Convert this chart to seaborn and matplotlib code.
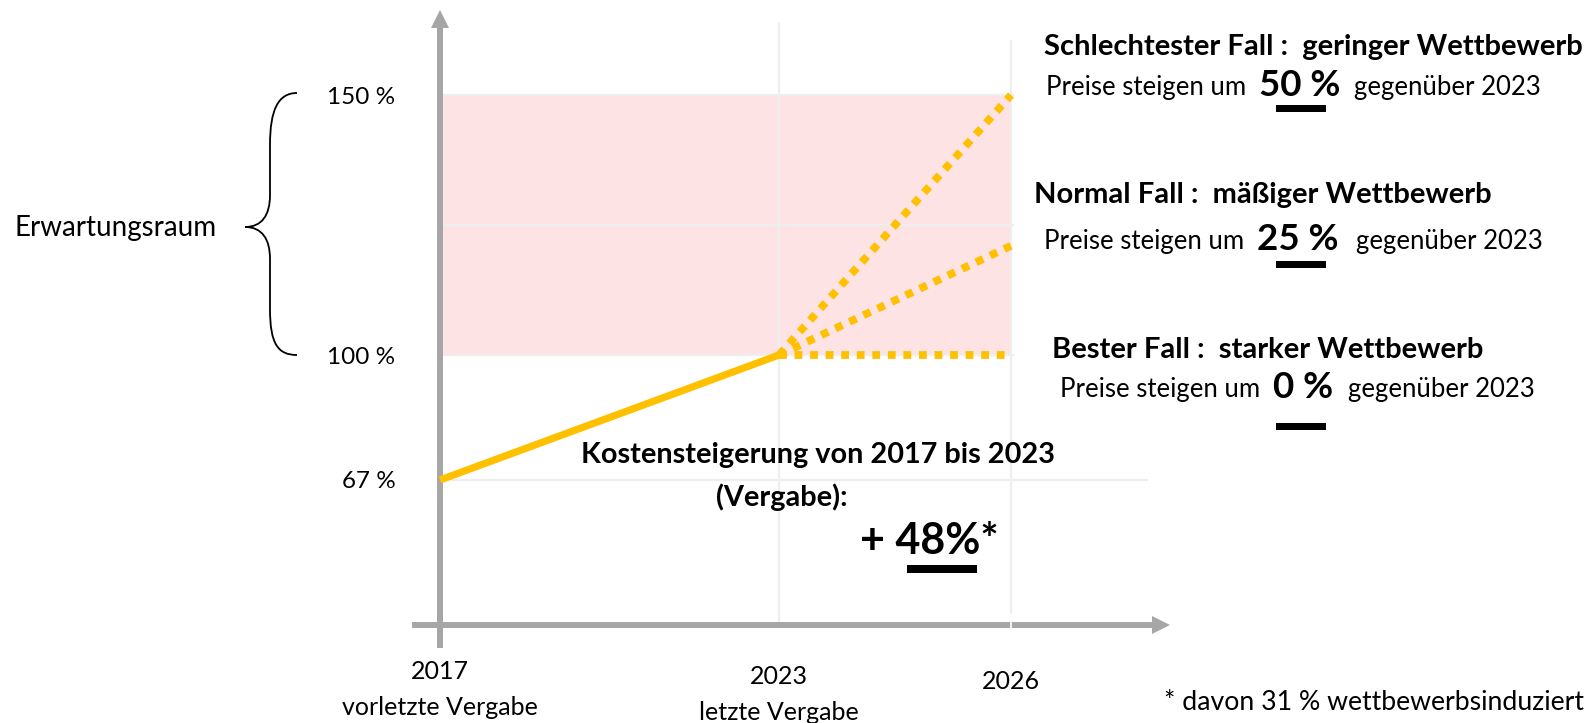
import numpy as np
import pandas as pd
import matplotlib
matplotlib.use("Agg")
import matplotlib.pyplot as plt
import matplotlib.transforms as mtransforms
import seaborn as sns
from matplotlib.path import Path
from matplotlib.patches import PathPatch, Rectangle

# ---------------- data ----------------
hist_years = [2017, 2023]
hist_values = [67, 100]
scen_names = ["Schlechtester Fall", "Normal Fall", "Bester Fall"]
scen_years = [2023, 2026]
scen_end_values = [150, 121, 100]
band_low, band_high = 100, 150
grid_values = [150, 125, 100]
ytick_values = [67, 100, 150]
ytick_labels = ["67 %", "100 %", "150 %"]
xtick_values = [2017, 2023, 2026]
xtick_labels = ["2017\nvorletzte Vergabe", "2023\nletzte Vergabe", "2026"]
scen_titles = ["Schlechtester Fall :  geringer Wettbewerb",
               "Normal Fall :  mäßiger Wettbewerb",
               "Bester Fall :  starker Wettbewerb"]
scen_pcts = ["50 %", "25 %", "0 %"]
kosten_title = "Kostensteigerung von 2017 bis 2023"
kosten_sub = "(Vergabe):"
kosten_value = "+ 48%*"
footnote = "* davon 31 % wettbewerbsinduziert"
range_label = "Erwartungsraum"

# ---------------- style ----------------
sns.set_style("white")
plt.rcParams["font.family"] = ["Lato", "DejaVu Sans"]

W, H = 1590, 723
GRAY = "#a6a6a6"
GRID = "#eeeeee"
YEL = "#ffc000"
PINK = "#fde3e4"

fig = plt.figure(figsize=(W / 100, H / 100), dpi=100)
ax = fig.add_axes([0, 0, 1, 1])


def piecewise(xk, yk):
    xk = np.asarray(xk, float)
    yk = np.asarray(yk, float)
    s0 = (yk[1] - yk[0]) / (xk[1] - xk[0])
    s1 = (yk[-1] - yk[-2]) / (xk[-1] - xk[-2])

    def f(v):
        v = np.asarray(v, float)
        out = np.interp(v, xk, yk)
        out = np.where(v < xk[0], yk[0] + (v - xk[0]) * s0, out)
        out = np.where(v > xk[-1], yk[-1] + (v - xk[-1]) * s1, out)
        return out
    return f


# schematic (non-linear) axes of the original graphic
x_px = [440, 779, 1011]
y_px = [H - 480, H - 355, H - 95]
fx, fx_inv = piecewise(xtick_values, x_px), piecewise(x_px, xtick_values)
fy, fy_inv = piecewise(ytick_values, y_px), piecewise(y_px, ytick_values)
ax.set_xscale("function", functions=(fx, fx_inv))
ax.set_yscale("function", functions=(fy, fy_inv))


def X(px):
    return float(fx_inv(px))


def Y(py):
    return float(fy_inv(H - py))


# band + grid
ax.fill_between([xtick_values[0], xtick_values[-1]], band_low, band_high,
                color=PINK, lw=0, zorder=0)
ax.hlines(grid_values, xtick_values[0], X(1014), color=GRID, lw=1.6, zorder=0.5)
ax.hlines(hist_values[0], xtick_values[0], X(1148), color=GRID, lw=1.6, zorder=0.5)
ax.vlines(xtick_values[1], Y(626), Y(22), color=GRID, lw=1.6, zorder=0.5)
ax.vlines(xtick_values[2], Y(626), Y(40), color=GRID, lw=1.6, zorder=0.5)

# lines
df_hist = pd.DataFrame({"Jahr": hist_years, "Wert": hist_values})
sns.lineplot(data=df_hist, x="Jahr", y="Wert", color=YEL, lw=5.2, ax=ax,
             solid_capstyle="butt", zorder=3)
rows = []
for name, v in zip(scen_names, scen_end_values):
    rows.append({"Szenario": name, "Jahr": scen_years[0], "Wert": hist_values[-1]})
    rows.append({"Szenario": name, "Jahr": scen_years[1], "Wert": v})
df_scen = pd.DataFrame(rows)
sns.lineplot(data=df_scen, x="Jahr", y="Wert", units="Szenario", estimator=None,
             color=YEL, lw=5.6, linestyle=(0, (1.0, 1.0)), dash_capstyle="butt",
             ax=ax, zorder=3)

ax.set_xlim(X(0), X(W))
ax.set_ylim(Y(H), Y(0))
ax.set_xlabel("")
ax.set_ylabel("")

# axes (spines) with arrows
for s in ["top", "right"]:
    ax.spines[s].set_visible(False)
ax.spines["left"].set_position(("data", xtick_values[0]))
ax.spines["left"].set_bounds(Y(645), Y(26))
ax.spines["bottom"].set_position(("data", Y(625)))
ax.spines["bottom"].set_bounds(X(415), X(1152))
for s in ["left", "bottom"]:
    ax.spines[s].set_color(GRAY)
    ax.spines[s].set_linewidth(4.3)
    ax.spines[s].set_zorder(2)
ax.plot(xtick_values[0], Y(19), marker="^", ms=13, color=GRAY, mew=0, clip_on=False)
ax.plot(X(1161), Y(625), marker=">", ms=13, color=GRAY, mew=0, clip_on=False)

ax.set_yticks(ytick_values)
ax.set_yticklabels(ytick_labels)
ax.set_xticks(xtick_values)
ax.set_xticklabels(xtick_labels, linespacing=1.7)
ax.tick_params(axis="y", direction="inout", length=24, width=4.3, color=GRAY,
               pad=20, labelsize=17.5, labelcolor="black")
ax.tick_params(axis="x", direction="inout", length=26, width=4.6, color=GRAY,
               pad=12, labelsize=18, labelcolor="black")
for lab, dy in zip(ax.get_xticklabels(), [0, 5, 10]):
    lab.set_transform(lab.get_transform() +
                      mtransforms.ScaledTranslation(0, -dy / 100, fig.dpi_scale_trans))
ax.vlines(xtick_values[2], Y(647), Y(613), color="white", lw=1.2, zorder=4)
ax.grid(False)


# ---------------- annotations ----------------
def T(x, y, s, **kw):
    kw.setdefault("va", "center")
    kw.setdefault("color", "black")
    return fig.text(x / W, 1 - y / H, s, **kw)


def bar(x0, x1, y, h=7):
    fig.add_artist(Rectangle((x0 / W, 1 - (y + h / 2) / H), (x1 - x0) / W, h / H,
                             transform=fig.transFigure, color="black", lw=0))


head_y = [47, 195, 350]
head_x = [1044, 1034, 1052]
line_y = [88, 242, 390]
pre_end = [1246, 1244, 1260]
pct_c = [1300, 1298, 1303]
post_x = [1354, 1356, 1348]
bar_y = [108, 264, 426]
for i in range(3):
    T(head_x[i], head_y[i], scen_titles[i], ha="left", fontsize=21, fontweight="bold")
    T(pre_end[i], line_y[i], "Preise steigen um", ha="right", fontsize=18.5)
    T(pct_c[i], line_y[i] - 2, scen_pcts[i], ha="center", fontsize=26.5, fontweight="bold")
    T(post_x[i], line_y[i], "gegenüber 2023", ha="left", fontsize=18.5)
    bar(1276, 1326, bar_y[i])

T(818, 455, kosten_title, ha="center", fontsize=20.8, fontweight="bold")
T(782, 497, kosten_sub, ha="center", fontsize=20.8, fontweight="bold")
T(929, 541, kosten_value, ha="center", fontsize=31, fontweight="bold")
bar(907, 977, 569, h=8)
T(1584, 702, footnote, ha="right", fontsize=19.2)
T(116, 228, range_label, ha="center", fontsize=20)

# curly brace
verts = [(297, 93), (278, 93), (270, 110), (270, 145),
         (270, 195),
         (270, 215), (262, 227), (245, 227),
         (262, 227), (270, 239), (270, 259),
         (270, 309),
         (270, 344), (278, 355), (297, 355)]
codes = [Path.MOVETO, Path.CURVE4, Path.CURVE4, Path.CURVE4,
         Path.LINETO,
         Path.CURVE4, Path.CURVE4, Path.CURVE4,
         Path.CURVE4, Path.CURVE4, Path.CURVE4,
         Path.LINETO,
         Path.CURVE4, Path.CURVE4, Path.CURVE4]
verts = [(x / W, 1 - y / H) for x, y in verts]
fig.add_artist(PathPatch(Path(verts, codes), transform=fig.transFigure,
                         fill=False, lw=1.3, edgecolor="black"))

fig.savefig("out.png", dpi=100)
